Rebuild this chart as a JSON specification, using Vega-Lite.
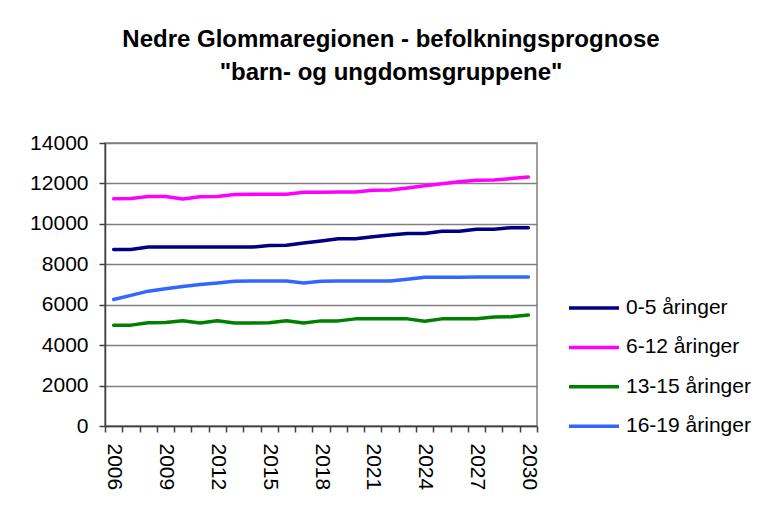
{
  "$schema": "https://vega.github.io/schema/vega-lite/v6.json",
  "width": 432,
  "height": 283,
  "autosize": {"type": "none"},
  "padding": {"left": 105, "top": 143, "right": 223, "bottom": 85},
  "background": "white",
  "title": {
    "text": ["Nedre Glommaregionen - befolkningsprognose", "\"barn- og ungdomsgruppene\""],
    "font": "Liberation Sans",
    "fontSize": 24,
    "fontWeight": "bold",
    "color": "black",
    "anchor": "middle",
    "frame": "group",
    "dx": 70,
    "lineHeight": 33,
    "baseline": "bottom",
    "offset": 23
  },
  "data": {
    "values": [
      {"year": 2006, "group": "0-5 åringer", "value": 8730},
      {"year": 2007, "group": "0-5 åringer", "value": 8730},
      {"year": 2008, "group": "0-5 åringer", "value": 8850},
      {"year": 2009, "group": "0-5 åringer", "value": 8850},
      {"year": 2010, "group": "0-5 åringer", "value": 8850},
      {"year": 2011, "group": "0-5 åringer", "value": 8850},
      {"year": 2012, "group": "0-5 åringer", "value": 8850},
      {"year": 2013, "group": "0-5 åringer", "value": 8850},
      {"year": 2014, "group": "0-5 åringer", "value": 8850},
      {"year": 2015, "group": "0-5 åringer", "value": 8930},
      {"year": 2016, "group": "0-5 åringer", "value": 8940},
      {"year": 2017, "group": "0-5 åringer", "value": 9050},
      {"year": 2018, "group": "0-5 åringer", "value": 9150},
      {"year": 2019, "group": "0-5 åringer", "value": 9260},
      {"year": 2020, "group": "0-5 åringer", "value": 9260},
      {"year": 2021, "group": "0-5 åringer", "value": 9360},
      {"year": 2022, "group": "0-5 åringer", "value": 9450},
      {"year": 2023, "group": "0-5 åringer", "value": 9520},
      {"year": 2024, "group": "0-5 åringer", "value": 9520},
      {"year": 2025, "group": "0-5 åringer", "value": 9630},
      {"year": 2026, "group": "0-5 åringer", "value": 9630},
      {"year": 2027, "group": "0-5 åringer", "value": 9730},
      {"year": 2028, "group": "0-5 åringer", "value": 9730},
      {"year": 2029, "group": "0-5 åringer", "value": 9810},
      {"year": 2030, "group": "0-5 åringer", "value": 9810},
      {"year": 2006, "group": "6-12 åringer", "value": 11240},
      {"year": 2007, "group": "6-12 åringer", "value": 11250},
      {"year": 2008, "group": "6-12 åringer", "value": 11350},
      {"year": 2009, "group": "6-12 åringer", "value": 11350},
      {"year": 2010, "group": "6-12 åringer", "value": 11230},
      {"year": 2011, "group": "6-12 åringer", "value": 11340},
      {"year": 2012, "group": "6-12 åringer", "value": 11350},
      {"year": 2013, "group": "6-12 åringer", "value": 11450},
      {"year": 2014, "group": "6-12 åringer", "value": 11460},
      {"year": 2015, "group": "6-12 åringer", "value": 11460},
      {"year": 2016, "group": "6-12 åringer", "value": 11470},
      {"year": 2017, "group": "6-12 åringer", "value": 11560},
      {"year": 2018, "group": "6-12 åringer", "value": 11560},
      {"year": 2019, "group": "6-12 åringer", "value": 11570},
      {"year": 2020, "group": "6-12 åringer", "value": 11580},
      {"year": 2021, "group": "6-12 åringer", "value": 11660},
      {"year": 2022, "group": "6-12 åringer", "value": 11670},
      {"year": 2023, "group": "6-12 åringer", "value": 11770},
      {"year": 2024, "group": "6-12 åringer", "value": 11880},
      {"year": 2025, "group": "6-12 åringer", "value": 11980},
      {"year": 2026, "group": "6-12 åringer", "value": 12080},
      {"year": 2027, "group": "6-12 åringer", "value": 12160},
      {"year": 2028, "group": "6-12 åringer", "value": 12170},
      {"year": 2029, "group": "6-12 åringer", "value": 12240},
      {"year": 2030, "group": "6-12 åringer", "value": 12320},
      {"year": 2006, "group": "13-15 åringer", "value": 4980},
      {"year": 2007, "group": "13-15 åringer", "value": 4990},
      {"year": 2008, "group": "13-15 åringer", "value": 5110},
      {"year": 2009, "group": "13-15 åringer", "value": 5120},
      {"year": 2010, "group": "13-15 åringer", "value": 5210},
      {"year": 2011, "group": "13-15 åringer", "value": 5100},
      {"year": 2012, "group": "13-15 åringer", "value": 5210},
      {"year": 2013, "group": "13-15 åringer", "value": 5100},
      {"year": 2014, "group": "13-15 åringer", "value": 5100},
      {"year": 2015, "group": "13-15 åringer", "value": 5110},
      {"year": 2016, "group": "13-15 åringer", "value": 5210},
      {"year": 2017, "group": "13-15 åringer", "value": 5100},
      {"year": 2018, "group": "13-15 åringer", "value": 5200},
      {"year": 2019, "group": "13-15 åringer", "value": 5200},
      {"year": 2020, "group": "13-15 åringer", "value": 5300},
      {"year": 2021, "group": "13-15 åringer", "value": 5300},
      {"year": 2022, "group": "13-15 åringer", "value": 5300},
      {"year": 2023, "group": "13-15 åringer", "value": 5300},
      {"year": 2024, "group": "13-15 åringer", "value": 5180},
      {"year": 2025, "group": "13-15 åringer", "value": 5300},
      {"year": 2026, "group": "13-15 åringer", "value": 5300},
      {"year": 2027, "group": "13-15 åringer", "value": 5300},
      {"year": 2028, "group": "13-15 åringer", "value": 5390},
      {"year": 2029, "group": "13-15 åringer", "value": 5400},
      {"year": 2030, "group": "13-15 åringer", "value": 5490},
      {"year": 2006, "group": "16-19 åringer", "value": 6260},
      {"year": 2007, "group": "16-19 åringer", "value": 6460},
      {"year": 2008, "group": "16-19 åringer", "value": 6670},
      {"year": 2009, "group": "16-19 åringer", "value": 6790},
      {"year": 2010, "group": "16-19 åringer", "value": 6900},
      {"year": 2011, "group": "16-19 åringer", "value": 7000},
      {"year": 2012, "group": "16-19 åringer", "value": 7080},
      {"year": 2013, "group": "16-19 åringer", "value": 7160},
      {"year": 2014, "group": "16-19 åringer", "value": 7170},
      {"year": 2015, "group": "16-19 åringer", "value": 7170},
      {"year": 2016, "group": "16-19 åringer", "value": 7170},
      {"year": 2017, "group": "16-19 åringer", "value": 7070},
      {"year": 2018, "group": "16-19 åringer", "value": 7160},
      {"year": 2019, "group": "16-19 åringer", "value": 7170},
      {"year": 2020, "group": "16-19 åringer", "value": 7170},
      {"year": 2021, "group": "16-19 åringer", "value": 7170},
      {"year": 2022, "group": "16-19 åringer", "value": 7170},
      {"year": 2023, "group": "16-19 åringer", "value": 7260},
      {"year": 2024, "group": "16-19 åringer", "value": 7360},
      {"year": 2025, "group": "16-19 åringer", "value": 7360},
      {"year": 2026, "group": "16-19 åringer", "value": 7360},
      {"year": 2027, "group": "16-19 åringer", "value": 7370},
      {"year": 2028, "group": "16-19 åringer", "value": 7370},
      {"year": 2029, "group": "16-19 åringer", "value": 7370},
      {"year": 2030, "group": "16-19 åringer", "value": 7370}
    ]
  },
  "mark": {"type": "line", "strokeWidth": 3.5, "strokeJoin": "round", "strokeCap": "round"},
  "encoding": {
    "x": {
      "field": "year",
      "type": "ordinal",
      "scale": {"type": "band", "paddingInner": 0, "paddingOuter": 0},
      "axis": {
        "title": null,
        "tickBand": "extent",
        "labelAngle": 90,
        "labelAlign": "left",
        "labelBaseline": "middle",
        "labelFont": "Liberation Sans",
        "labelFontSize": 21,
        "labelColor": "black",
        "labelPadding": 11,
        "labelOverlap": false,
        "labelExpr": "(datum.value - 2006) % 3 == 0 ? datum.label : ''",
        "tickSize": 6,
        "tickColor": "#404040",
        "tickWidth": 1.5,
        "domainColor": "#404040",
        "domainWidth": 1.5,
        "grid": false
      }
    },
    "y": {
      "field": "value",
      "type": "quantitative",
      "scale": {"domain": [0, 14000], "nice": false},
      "axis": {
        "title": null,
        "values": [0, 2000, 4000, 6000, 8000, 10000, 12000, 14000],
        "format": "d",
        "labelFont": "Liberation Sans",
        "labelFontSize": 21,
        "labelColor": "black",
        "labelPadding": 11,
        "tickSize": 6,
        "tickColor": "#404040",
        "tickWidth": 1.5,
        "domainColor": "#404040",
        "domainWidth": 1.5,
        "gridColor": "#808080",
        "gridWidth": 1.5
      }
    },
    "color": {
      "field": "group",
      "type": "nominal",
      "scale": {
        "domain": ["0-5 åringer", "6-12 åringer", "13-15 åringer", "16-19 åringer"],
        "range": ["#000080", "#FF00FF", "#008000", "#3366FF"]
      },
      "legend": {
        "title": null,
        "orient": "none",
        "legendX": 462,
        "legendY": 138,
        "symbolType": "stroke",
        "symbolSize": 2500,
        "symbolStrokeWidth": 3.5,
        "labelFont": "Liberation Sans",
        "labelFontSize": 21,
        "labelColor": "black",
        "labelOffset": 5,
        "rowPadding": 2.4
      }
    }
  },
  "config": {
    "view": {"stroke": "#808080", "strokeWidth": 1.5},
    "font": "Liberation Sans"
  }
}
